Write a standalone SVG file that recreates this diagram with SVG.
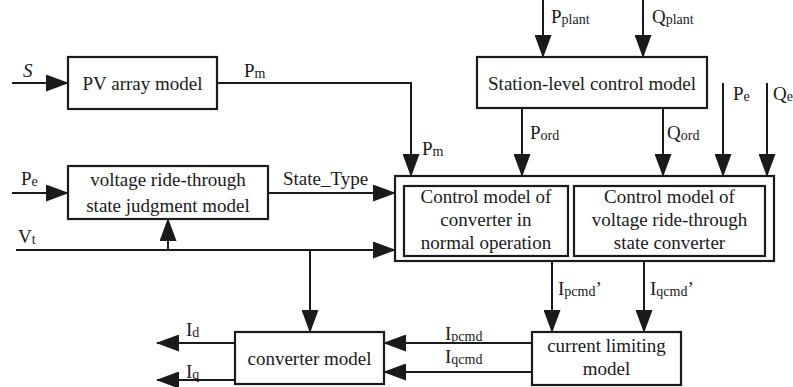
<svg xmlns="http://www.w3.org/2000/svg" width="793" height="387" viewBox="0 0 793 387">
<defs>
<marker id="ah" markerUnits="userSpaceOnUse" markerWidth="23" markerHeight="17" refX="22" refY="8.5" orient="auto">
<path d="M0,0 L23,8.5 L0,17 z" fill="#1a1a1a"/>
</marker>
<style>
.box{fill:#fff;stroke:#1a1a1a;stroke-width:2.2}
.ar{fill:none;stroke:#1a1a1a;stroke-width:2;marker-end:url(#ah)}
text{font-family:"Liberation Serif","Times New Roman",serif;font-size:19px;fill:#1a1a1a}
.c{text-anchor:middle}
.sub{font-size:14px}
</style>
</defs>
<rect width="793" height="387" fill="#fff"/>
<g id="connectors">
<line class="ar" x1="12" y1="83" x2="68" y2="83"/>
<polyline class="ar" points="217,83 411,83 411,176"/>
<line class="ar" x1="543" y1="0" x2="543" y2="57"/>
<line class="ar" x1="643" y1="0" x2="643" y2="57"/>
<line class="ar" x1="522" y1="108" x2="522" y2="176"/>
<line class="ar" x1="663" y1="108" x2="663" y2="176"/>
<line class="ar" x1="723" y1="83" x2="723" y2="176"/>
<line class="ar" x1="767" y1="83" x2="767" y2="176"/>
<line class="ar" x1="12" y1="193" x2="68" y2="193"/>
<line class="ar" x1="268" y1="193" x2="395" y2="193"/>
<line class="ar" x1="16" y1="250" x2="395" y2="250"/>
<line class="ar" x1="168" y1="250" x2="168" y2="219"/>
<line class="ar" x1="310" y1="250" x2="310" y2="332"/>
<line class="ar" x1="552" y1="261" x2="552" y2="332"/>
<line class="ar" x1="644" y1="261" x2="644" y2="332"/>
<line class="ar" x1="532" y1="343" x2="384" y2="343"/>
<line class="ar" x1="532" y1="372" x2="384" y2="372"/>
<line class="ar" x1="235" y1="343" x2="157" y2="343"/>
<line class="ar" x1="235" y1="380" x2="157" y2="380"/>
</g>
<g id="labels">
<text x="23" y="77" font-style="italic">S</text>
<text x="244" y="77">P<tspan class="sub" dy="1">m</tspan></text>
<text x="422" y="155">P<tspan class="sub" dy="1">m</tspan></text>
<text x="551" y="23">P<tspan class="sub" dy="1">plant</tspan></text>
<text x="652" y="23">Q<tspan class="sub" dy="1">plant</tspan></text>
<text x="530" y="139">P<tspan class="sub" dy="1">ord</tspan></text>
<text x="667" y="139">Q<tspan class="sub" dy="1">ord</tspan></text>
<text x="733" y="100">P<tspan class="sub" dy="1">e</tspan></text>
<text x="773" y="100">Q<tspan class="sub" dy="1">e</tspan></text>
<text x="21" y="185">P<tspan class="sub" dy="1">e</tspan></text>
<text x="283" y="185">State_Type</text>
<text x="18" y="243">V<tspan class="sub" dy="1">t</tspan></text>
<text x="558" y="295">I<tspan class="sub" dy="1">pcmd</tspan><tspan dy="-1">’</tspan></text>
<text x="650" y="295">I<tspan class="sub" dy="1">qcmd</tspan><tspan dy="-1">’</tspan></text>
<text x="445" y="340">I<tspan class="sub" dy="1">pcmd</tspan></text>
<text x="445" y="363">I<tspan class="sub" dy="1">qcmd</tspan></text>
<text x="186" y="336">I<tspan class="sub" dy="1">d</tspan></text>
<text x="186" y="378">I<tspan class="sub" dy="1">q</tspan></text>
</g>
<g id="pv">
<rect class="box" x="68" y="57" width="149" height="52"/>
<text class="c" x="142.5" y="90">PV array model</text>
</g>
<g id="station">
<rect class="box" x="477" y="57" width="230" height="51"/>
<text class="c" x="592" y="90">Station-level control model</text>
</g>
<g id="vrt-judge">
<rect class="box" x="68" y="166" width="200" height="53"/>
<text class="c" x="168" y="186">voltage ride-through</text>
<text class="c" x="168" y="212">state judgment model</text>
</g>
<g id="control">
<rect class="box" x="395" y="176" width="379" height="85"/>
<g id="normal">
<rect class="box" x="404" y="186" width="164" height="70"/>
<text class="c" x="486" y="203">Control model of</text>
<text class="c" x="486" y="226">converter in</text>
<text class="c" x="486" y="249">normal operation</text>
</g>
<g id="vrt-conv">
<rect class="box" x="574" y="186" width="191" height="70"/>
<text class="c" x="669.5" y="203">Control model of</text>
<text class="c" x="669.5" y="226">voltage ride-through</text>
<text class="c" x="669.5" y="249">state converter</text>
</g>
</g>
<g id="converter">
<rect class="box" x="235" y="332" width="149" height="52"/>
<text class="c" x="309.5" y="365">converter model</text>
</g>
<g id="limiter">
<rect class="box" x="532" y="332" width="149" height="53"/>
<text class="c" x="606.5" y="352">current limiting</text>
<text class="c" x="606.5" y="375">model</text>
</g>
</svg>
